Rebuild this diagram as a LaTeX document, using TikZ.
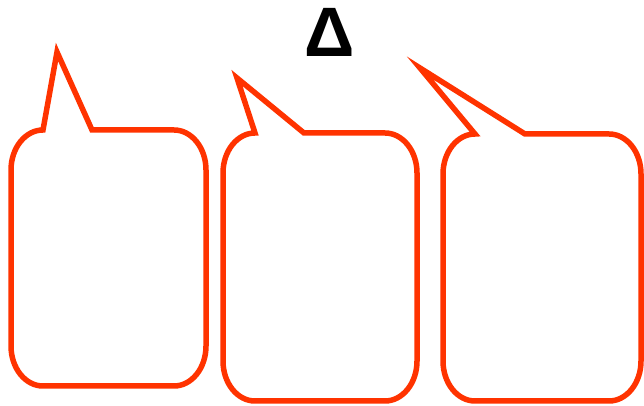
\documentclass[tikz,border=0pt]{standalone}
\usepackage{fontspec}
\setmainfont{Liberation Sans}
\definecolor{bubblered}{RGB}{255,51,0}
\tikzset{
  bubble/.style={draw=bubblered, line width=5.5pt, line join=miter, miter limit=10},
  deltatext/.style={font=\bfseries\fontsize{70}{70}\selectfont, inner sep=0pt, anchor=base}
}
% #1 x1, #2 x2, #3 top, #4 bottom, #5 tail right base x, #6 tip
\newcommand{\speechbubble}[6]{%
  \draw[bubble] (#5,#3) -- (#2-32,#3)
    arc[start angle=90, end angle=0, x radius=32, y radius=40]
    -- (#2,#4+40)
    arc[start angle=0, end angle=-90, x radius=32, y radius=40]
    -- (#1+32,#4)
    arc[start angle=270, end angle=180, x radius=32, y radius=40]
    -- (#1,#3-40)
    arc[start angle=180, end angle=90, x radius=32, y radius=40]
    -- #6 -- cycle;}
\begin{document}
\begin{tikzpicture}[x=1pt,y=1pt]
\useasboundingbox (0,0) rectangle (644,406);
\speechbubble{11}{206}{276}{20}{92}{(57,354)}
\speechbubble{223}{417}{273}{5}{304}{(237,328)}
\speechbubble{443}{641}{272}{5}{525}{(420,338)}
\node[deltatext] (delta) at (329.5,349) {Δ};
\end{tikzpicture}
\end{document}
